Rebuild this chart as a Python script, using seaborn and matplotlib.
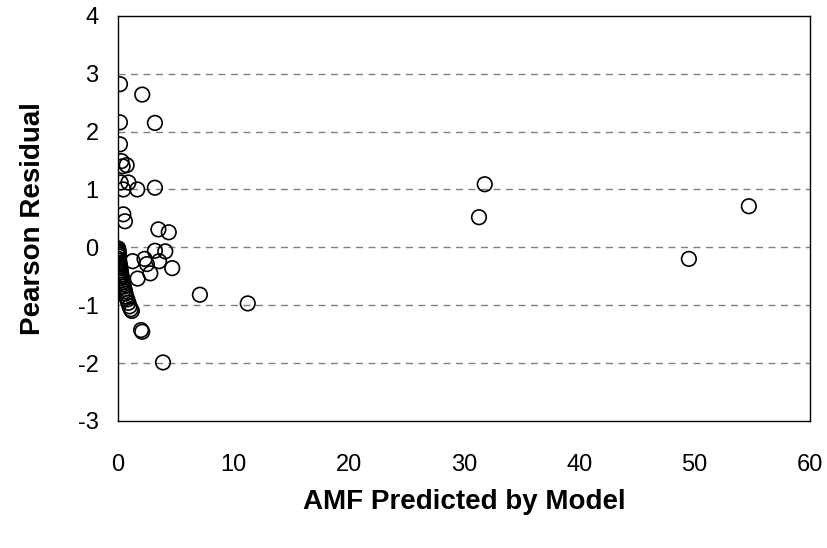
import pandas as pd
import matplotlib.pyplot as plt
import seaborn as sns

# predicted AMF values and their Pearson residuals
predicted = [
    0.17, 2.1, 0.17, 3.2, 0.17, 0.3, 0.4, 0.75, 0.23, 0.9, 0.46, 1.67, 3.2,
    0.46, 0.6, 3.5, 4.4, 3.2, 4.1, 1.27, 2.3, 2.5, 3.56, 4.7, 2.8, 1.7,
    7.1, 11.25, 2.0, 2.1, 3.9,
    0.02, 0.03, 0.05, 0.06, 0.08, 0.1, 0.05, 0.1, 0.12, 0.15, 0.18, 0.2,
    0.22, 0.25, 0.28, 0.3, 0.33, 0.37, 0.4, 0.45, 0.5, 0.55, 0.6, 0.65,
    0.7, 0.8, 0.9, 1.0, 1.1, 1.2,
    31.8, 31.3, 49.5, 54.7,
]
residual = [
    2.82, 2.64, 2.16, 2.15, 1.78, 1.49, 1.4, 1.42, 1.12, 1.12, 1.0, 1.0, 1.03,
    0.57, 0.45, 0.31, 0.26, -0.06, -0.07, -0.24, -0.2, -0.29, -0.24, -0.36, -0.45, -0.54,
    -0.82, -0.97, -1.43, -1.46, -1.99,
    -0.02, -0.05, -0.08, -0.1, -0.13, -0.16, -0.2, -0.23, -0.27, -0.3, -0.33, -0.36,
    -0.4, -0.43, -0.47, -0.5, -0.53, -0.57, -0.6, -0.64, -0.68, -0.72, -0.76, -0.8,
    -0.85, -0.9, -0.96, -1.02, -1.07, -1.1,
    1.09, 0.52, -0.2, 0.71,
]
df = pd.DataFrame({'predicted': predicted, 'residual': residual})

sns.set_style('white')
plt.rcParams['font.family'] = ['Liberation Sans', 'DejaVu Sans']
plt.rcParams['axes.unicode_minus'] = False
plt.rcParams['text.color'] = 'black'
plt.rcParams['axes.labelcolor'] = 'black'
plt.rcParams['xtick.color'] = 'black'
plt.rcParams['ytick.color'] = 'black'

fig = plt.figure(figsize=(8.27, 5.48), dpi=100)
ax = fig.add_axes([0.1427, 0.232, 0.8367, 0.739])

for yv in [-2, -1, 0, 1, 2, 3]:
    ax.axhline(yv, color='#808080', linestyle=(0, (5, 4)), linewidth=1, zorder=0)

sns.scatterplot(data=df, x='predicted', y='residual', ax=ax, marker='o',
                s=110, facecolors='none', edgecolor='black', linewidth=1.2)

ax.set_xlim(0, 60)
ax.set_ylim(-3, 4)
ax.set_xticks(range(0, 61, 10))
ax.set_yticks(range(-3, 5))
ax.tick_params(direction='in', length=5, width=1, labelsize=17)
ax.tick_params(axis='x', pad=24)
ax.tick_params(axis='y', pad=14)
for s in ax.spines.values():
    s.set_color('black')
    s.set_linewidth(1)

ax.set_xlabel('AMF Predicted by Model', fontsize=20, fontweight='bold', labelpad=9)
ax.set_ylabel('Pearson Residual', fontsize=20, fontweight='bold', labelpad=23)

plt.savefig('out.png', dpi=100)
